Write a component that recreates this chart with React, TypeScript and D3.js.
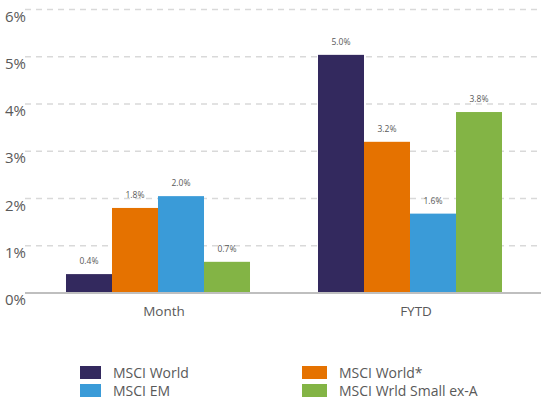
import React from "react";
import * as d3 from "d3";

const categories = ["Month", "FYTD"];
const seriesNames = ["MSCI World", "MSCI World*", "MSCI EM", "MSCI Wrld Small ex-A"];
const seriesColors = ["#33295e", "#e57200", "#3a9bd8", "#83b445"];
const monthValues = [0.4, 1.8, 2.05, 0.66];
const fytdValues = [5.04, 3.2, 1.68, 3.83];
const monthLabels = ["0.4%", "1.8%", "2.0%", "0.7%"];
const fytdLabels = ["5.0%", "3.2%", "1.6%", "3.8%"];
const yTicks = [0, 1, 2, 3, 4, 5, 6];

const W = 541;
const H = 400;

export default function App() {
  const y = d3.scaleLinear().domain([0, 6]).range([293, 9.5]);
  const x0 = d3.scaleBand<string>().domain(categories).range([32, 536]).padding(0);
  const x1 = d3
    .scaleBand<number>()
    .domain([0, 1, 2, 3])
    .range([0, x0.bandwidth()])
    .paddingInner(0)
    .paddingOuter(0.739);
  const values = [monthValues, fytdValues];
  const labels = [monthLabels, fytdLabels];
  const gray = "#595959";
  const font = "'Open Sans', 'Noto Sans', sans-serif";

  const legend = [
    { i: 0, sx: 80, sw: 21, tx: 113, y: 366 },
    { i: 1, sx: 302, sw: 25, tx: 339, y: 366 },
    { i: 2, sx: 80, sw: 21, tx: 113, y: 384 },
    { i: 3, sx: 302, sw: 25, tx: 339, y: 384 },
  ];

  return (
    <>
      <style>{`body{margin:0}`}</style>
      <svg width={W} height={H} style={{ display: "block", fontFamily: font }}>
        <rect width={W} height={H} fill="#fff" />
        {yTicks.slice(1).map((t) => (
          <line
            key={t}
            x1={25}
            x2={541}
            y1={y(t)}
            y2={y(t)}
            stroke="#d9d9d9"
            strokeWidth={1.5}
            strokeDasharray="6 5"
          />
        ))}
        {yTicks.map((t) => (
          <text key={t} x={5} y={y(t) + 12} fontSize={15} fill={gray}>
            {t}%
          </text>
        ))}
        {categories.map((c, ci) => (
          <g key={c} transform={`translate(${x0(c)},0)`}>
            {values[ci].map((v, si) => (
              <g key={si}>
                <rect
                  x={x1(si)}
                  y={y(v)}
                  width={x1.bandwidth()}
                  height={y(0) - y(v)}
                  fill={seriesColors[si]}
                />
                <text
                  x={(x1(si) as number) + x1.bandwidth() / 2}
                  y={y(v) - 10}
                  fontSize={8.5}
                  fill={gray}
                  textAnchor="middle"
                >
                  {labels[ci][si]}
                </text>
              </g>
            ))}
            <text x={x0.bandwidth() / 2 + 6} y={316} fontSize={13.5} fill={gray} textAnchor="middle">
              {c}
            </text>
          </g>
        ))}
        <line x1={25} x2={541} y1={y(0)} y2={y(0)} stroke="#bfbfbf" strokeWidth={2} />
        {legend.map((l) => (
          <g key={l.i}>
            <rect x={l.sx} y={l.y} width={l.sw} height={13} fill={seriesColors[l.i]} />
            <text x={l.tx} y={l.y + 12} fontSize={14} fill={gray}>
              {seriesNames[l.i]}
            </text>
          </g>
        ))}
      </svg>
    </>
  );
}
